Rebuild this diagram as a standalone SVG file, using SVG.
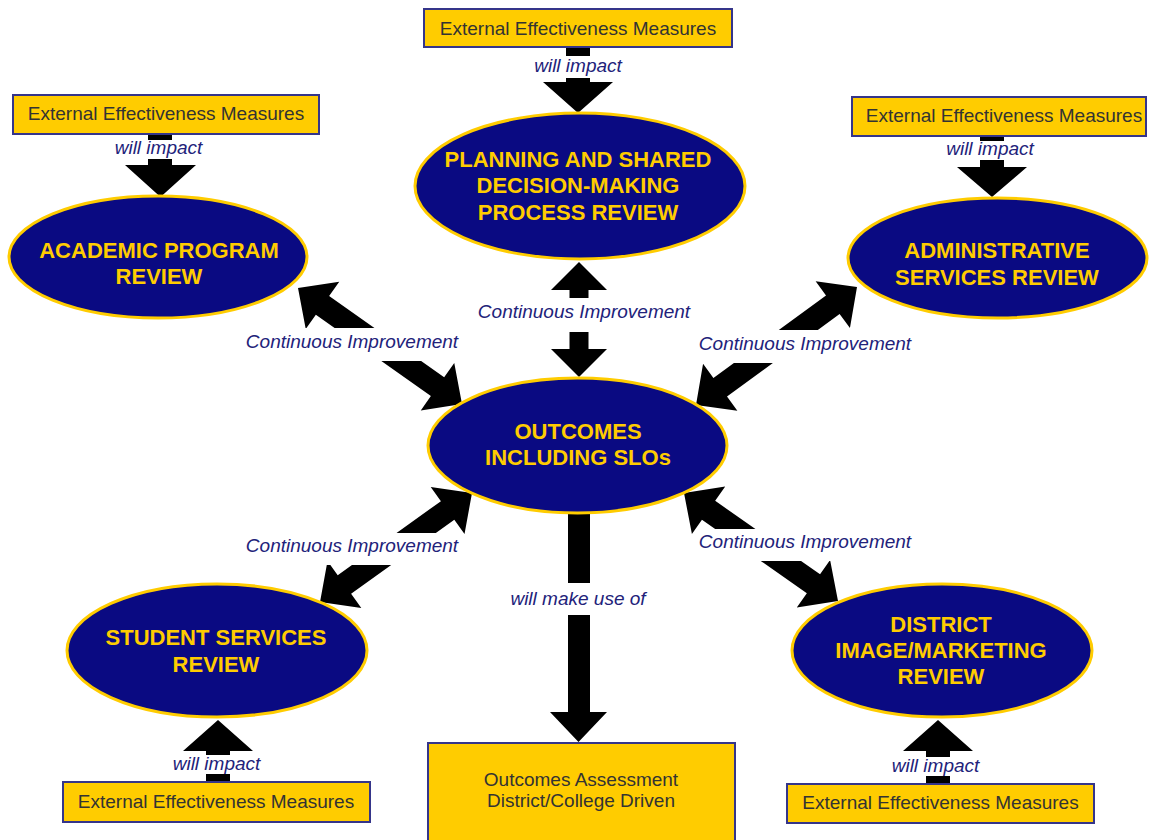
<svg xmlns="http://www.w3.org/2000/svg" width="1150" height="840" viewBox="0 0 1150 840">
<style>
.box{fill:#FFCC00;stroke:#35358a;stroke-width:2}
.btxt{font-family:"Liberation Sans",Arial,sans-serif;font-size:19px;fill:#333333;text-anchor:middle}
.ell{fill:#0a0a82;stroke:#FFCC00;stroke-width:3}
.etxt{font-family:"Liberation Sans",Arial,sans-serif;font-size:22px;font-weight:bold;fill:#FFCC00;text-anchor:middle}
.arr{fill:#000000}
.lbl{font-family:"Liberation Sans",Arial,sans-serif;font-size:19px;font-style:italic;fill:#22227a;text-anchor:middle}
.bg{fill:#ffffff}
</style>
<rect width="1150" height="840" fill="#ffffff"/>
<g id="connectors">
  <!-- will impact arrows -->
  <polygon class="arr" points="566,47 590,47 590,82 613,82 578,113 543,82 566,82"/>
  <polygon class="arr" points="148,134 172,134 172,165 196,165 160.5,197 125,165 148,165"/>
  <polygon class="arr" points="980,136 1004,136 1004,167 1027,167 992,197 957,167 980,167"/>
  <polygon class="arr" points="206,782 230,782 230,751 253,751 218,720 183,751 206,751"/>
  <polygon class="arr" points="926,784 950,784 950,751 973,751 938,720 903,751 926,751"/>
  <!-- will make use of -->
  <polygon class="arr" points="568,508 590,508 590,712 607,712 578.5,742 550,712 568,712"/>
  <!-- continuous improvement double arrows -->
  <polygon class="arr" points="579,262 607,290 588.5,290 588.5,349 607,349 579,377 551,349 569.5,349 569.5,290 551,290"/>
  <polygon class="arr" transform="translate(298,288) rotate(35.28)" points="0,0 30,-29 30,-11.5 170.9,-11.5 170.9,-29 200.9,0 170.9,29 170.9,11.5 30,11.5 30,29"/>
  <polygon class="arr" transform="translate(857,287) rotate(143.76)" points="0,0 30,-29 30,-11.5 169.6,-11.5 169.6,-29 199.6,0 169.6,29 169.6,11.5 30,11.5 30,29"/>
  <polygon class="arr" transform="translate(472,493) rotate(144.36)" points="0,0 30,-29 30,-11.5 157,-11.5 157,-29 187,0 157,29 157,11.5 30,11.5 30,29"/>
  <polygon class="arr" transform="translate(684,493) rotate(35.04)" points="0,0 30,-29 30,-11.5 158.1,-11.5 158.1,-29 188.1,0 158.1,29 158.1,11.5 30,11.5 30,29"/>
  <!-- labels -->
  <rect class="bg" x="532" y="56" width="92" height="22"/>
  <text class="lbl" x="578" y="72">will impact</text>
  <rect class="bg" x="112.5" y="140" width="92" height="19"/>
  <text class="lbl" x="158.5" y="154">will impact</text>
  <rect class="bg" x="944" y="141" width="92" height="19"/>
  <text class="lbl" x="990" y="155">will impact</text>
  <rect class="bg" x="170.5" y="755" width="92" height="19"/>
  <text class="lbl" x="216.5" y="770">will impact</text>
  <rect class="bg" x="889.5" y="757" width="92" height="19"/>
  <text class="lbl" x="935.5" y="772">will impact</text>
  <rect class="bg" x="508" y="583" width="140" height="32"/>
  <text class="lbl" x="578" y="605">will make use of</text>
  <rect class="bg" x="476" y="298" width="216" height="34"/>
  <text class="lbl" x="584" y="318">Continuous Improvement</text>
  <rect class="bg" x="244" y="328" width="216" height="33"/>
  <text class="lbl" x="352" y="348">Continuous Improvement</text>
  <rect class="bg" x="697" y="330" width="216" height="33"/>
  <text class="lbl" x="805" y="350">Continuous Improvement</text>
  <rect class="bg" x="244" y="533" width="216" height="32"/>
  <text class="lbl" x="352" y="552">Continuous Improvement</text>
  <rect class="bg" x="697" y="529" width="216" height="32"/>
  <text class="lbl" x="805" y="548">Continuous Improvement</text>
</g>
<g id="ext-top">
  <rect class="box" x="424" y="9" width="308" height="38"/>
  <text class="btxt" x="578" y="35">External Effectiveness Measures</text>
</g>
<g id="ext-left">
  <rect class="box" x="13" y="95" width="306" height="39"/>
  <text class="btxt" x="166" y="120">External Effectiveness Measures</text>
</g>
<g id="ext-right">
  <rect class="box" x="852" y="97" width="294" height="39"/>
  <text class="btxt" x="1004" y="122">External Effectiveness Measures</text>
</g>
<g id="ext-bottom-left">
  <rect class="box" x="63" y="782" width="307" height="40"/>
  <text class="btxt" x="216" y="808">External Effectiveness Measures</text>
</g>
<g id="ext-bottom-right">
  <rect class="box" x="787" y="784" width="307" height="39"/>
  <text class="btxt" x="940.5" y="809">External Effectiveness Measures</text>
</g>
<g id="outcomes-assessment">
  <rect class="box" x="428" y="743" width="307" height="102"/>
  <text class="btxt" x="581" y="786">Outcomes Assessment</text>
  <text class="btxt" x="581" y="807">District/College Driven</text>
</g>
<g id="academic">
  <ellipse class="ell" cx="158" cy="257" rx="149" ry="61"/>
  <text class="etxt" x="159" y="258">ACADEMIC PROGRAM</text>
  <text class="etxt" x="159" y="284">REVIEW</text>
</g>
<g id="planning">
  <ellipse class="ell" cx="580" cy="186" rx="165" ry="73"/>
  <text class="etxt" x="578" y="167">PLANNING AND SHARED</text>
  <text class="etxt" x="578" y="193">DECISION-MAKING</text>
  <text class="etxt" x="578" y="220">PROCESS REVIEW</text>
</g>
<g id="administrative">
  <ellipse class="ell" cx="997.5" cy="258" rx="149.5" ry="60"/>
  <text class="etxt" x="997" y="258">ADMINISTRATIVE</text>
  <text class="etxt" x="997" y="285">SERVICES REVIEW</text>
</g>
<g id="outcomes">
  <ellipse class="ell" cx="577.5" cy="445.5" rx="149.5" ry="67.5"/>
  <text class="etxt" x="578" y="439">OUTCOMES</text>
  <text class="etxt" x="578" y="465">INCLUDING SLOs</text>
</g>
<g id="student">
  <ellipse class="ell" cx="217" cy="650.5" rx="150" ry="66.5"/>
  <text class="etxt" x="216" y="645">STUDENT SERVICES</text>
  <text class="etxt" x="216" y="672">REVIEW</text>
</g>
<g id="district">
  <ellipse class="ell" cx="942" cy="650.5" rx="150" ry="66.5"/>
  <text class="etxt" x="941" y="632">DISTRICT</text>
  <text class="etxt" x="941" y="658">IMAGE/MARKETING</text>
  <text class="etxt" x="941" y="684">REVIEW</text>
</g>
</svg>
